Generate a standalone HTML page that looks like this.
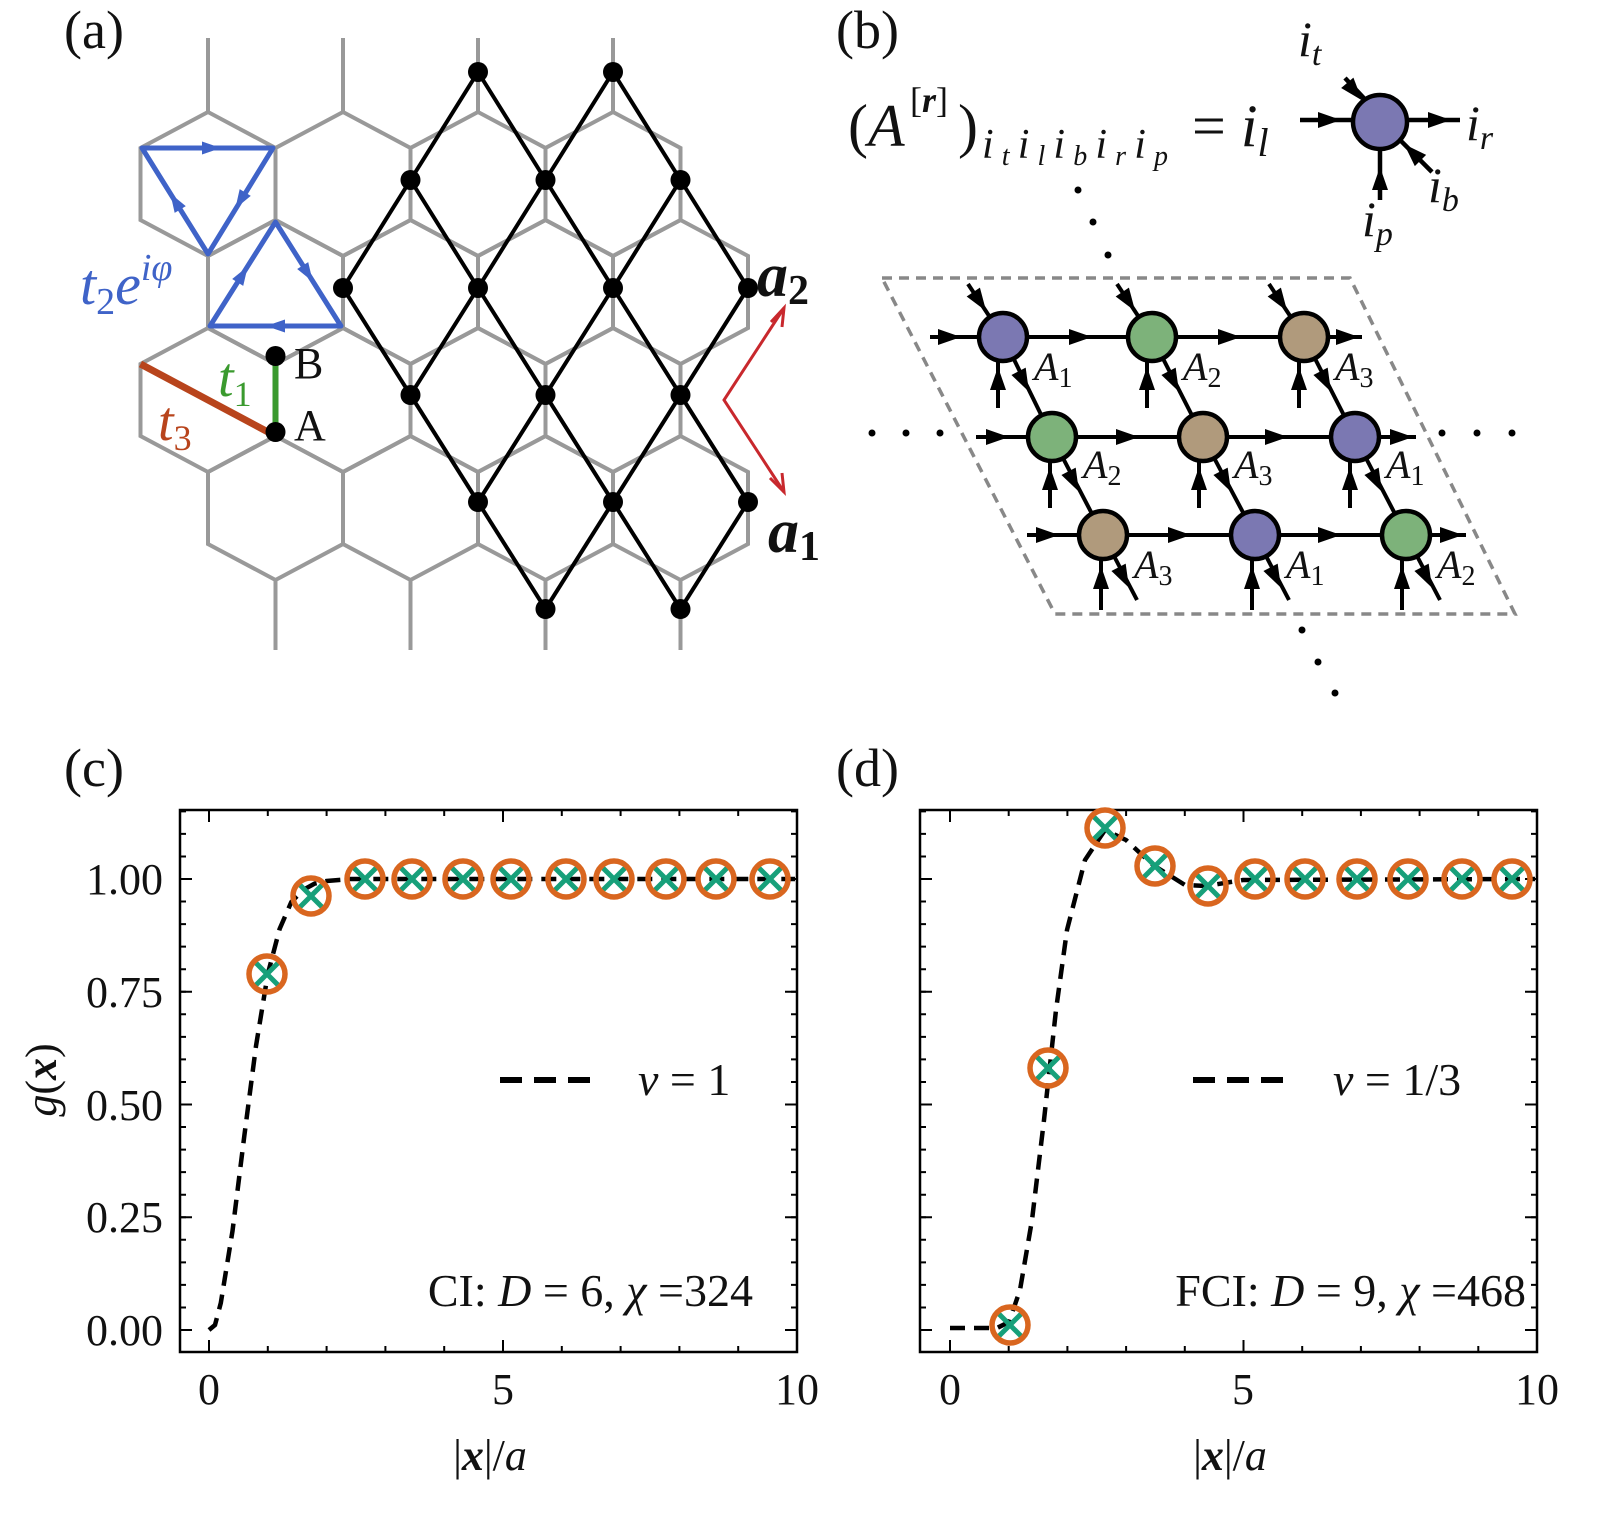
<!DOCTYPE html>
<html><head><meta charset="utf-8"><style>
html,body{margin:0;padding:0;background:#fff}
svg{display:block}
text{font-family:"Liberation Serif",serif;fill:#111}
.it{font-style:italic}
</style></head><body>
<svg width="1600" height="1517" viewBox="0 0 1600 1517" xmlns="http://www.w3.org/2000/svg">
<defs>
<polygon id="h" points="0,-72 67.5,-36 67.5,36 0,72 -67.5,36 -67.5,-36" fill="none" stroke="#999" stroke-width="4"/>
<polygon id="ar" points="-12,-8 11,0 -12,8" fill="#000"/>
<polygon id="ab" points="-10,-6.5 9,0 -10,6.5" fill="#3f63c8"/>
<g id="mk"><path d="M-11,-11 L11,11 M-11,11 L11,-11" stroke="#17a07a" stroke-width="5" fill="none"/><circle r="18" fill="none" stroke="#d9661f" stroke-width="5.5"/></g>
</defs>

<g>
<use href="#h" x="208" y="184"/><use href="#h" x="343" y="184"/><use href="#h" x="478" y="184"/><use href="#h" x="613" y="184"/>
<use href="#h" x="275.5" y="292"/><use href="#h" x="410.5" y="292"/><use href="#h" x="545.5" y="292"/><use href="#h" x="680.5" y="292"/>
<use href="#h" x="208" y="400"/><use href="#h" x="343" y="400"/><use href="#h" x="478" y="400"/><use href="#h" x="613" y="400"/>
<use href="#h" x="275.5" y="508"/><use href="#h" x="410.5" y="508"/><use href="#h" x="545.5" y="508"/><use href="#h" x="680.5" y="508"/>
<path d="M208,38V112M343,38V112M478,38V112M613,38V112M275.5,580V650M410.5,580V650M545.5,580V650M680.5,580V650" stroke="#999" stroke-width="4"/>
</g>
<g stroke="#000" stroke-width="4" fill="none">
<polyline points="478,72 545.5,180 613,288 680.5,395 748,502"/>
<polyline points="613,72 680.5,180 748,288"/>
<polyline points="410.5,180 478,288 545.5,395 613,502 680.5,609"/>
<polyline points="343,288 410.5,395 478,502 545.5,609"/>
<polyline points="478,72 410.5,180 343,288"/>
<polyline points="613,72 545.5,180 478,288 410.5,395"/>
<polyline points="680.5,180 613,288 545.5,395 478,502"/>
<polyline points="748,288 680.5,395 613,502 545.5,609"/>
<polyline points="748,502 680.5,609"/>
</g>
<g fill="#000">
<circle cx="478" cy="72" r="10"/><circle cx="613" cy="72" r="10"/>
<circle cx="410.5" cy="180" r="10"/><circle cx="545.5" cy="180" r="10"/><circle cx="680.5" cy="180" r="10"/>
<circle cx="343" cy="288" r="10"/><circle cx="478" cy="288" r="10"/><circle cx="613" cy="288" r="10"/><circle cx="748" cy="288" r="10"/>
<circle cx="410.5" cy="395" r="10"/><circle cx="545.5" cy="395" r="10"/><circle cx="680.5" cy="395" r="10"/>
<circle cx="478" cy="502" r="10"/><circle cx="613" cy="502" r="10"/><circle cx="748" cy="502" r="10"/>
<circle cx="545.5" cy="609" r="10"/><circle cx="680.5" cy="609" r="10"/>
</g>
<g stroke="#3f63c8" stroke-width="5" fill="none" stroke-linejoin="round">
<polygon points="142,148 273,148 208,254"/>
<polygon points="275.5,222 341,326 210,326"/>
</g>
<use href="#ab" transform="translate(212,148)"/>
<use href="#ab" transform="translate(240,201) rotate(121.5)"/>
<use href="#ab" transform="translate(175,201) rotate(-121.5)"/>
<use href="#ab" transform="translate(308,274) rotate(58)"/>
<use href="#ab" transform="translate(275,326) rotate(180)"/>
<use href="#ab" transform="translate(243,274) rotate(-58)"/>
<line x1="140.5" y1="364" x2="275.5" y2="436" stroke="#b8441c" stroke-width="7"/>
<line x1="275.5" y1="364" x2="275.5" y2="436" stroke="#3a9a2e" stroke-width="6"/>
<circle cx="275.5" cy="356" r="10"/><circle cx="275.5" cy="432" r="10"/>
<text x="294" y="378" font-size="44">B</text>
<text x="294" y="440" font-size="44">A</text>
<text x="218" y="396" font-size="56" class="it" style="fill:#3a9a2e">t<tspan font-size="36" dy="10" font-style="normal">1</tspan></text>
<text x="158" y="440" font-size="56" class="it" style="fill:#b8441c">t<tspan font-size="36" dy="10" font-style="normal">3</tspan></text>
<text x="80" y="304" font-size="58" class="it" style="fill:#3f63c8">t<tspan font-size="38" dy="10" font-style="normal">2</tspan><tspan dy="-10">e</tspan><tspan font-size="38" dy="-24">iφ</tspan></text>
<g stroke="#c8282d" stroke-width="3" fill="none">
<polyline points="784,308 724,400 784,492"/>
<polyline points="771,322 784,308 782,327"/>
<polyline points="770,478 784,492 782,473"/>
</g>
<text x="757" y="296" font-size="62" font-weight="bold" class="it">a<tspan font-size="42" dy="8" font-style="normal">2</tspan></text>
<text x="768" y="552" font-size="62" font-weight="bold" class="it">a<tspan font-size="42" dy="8" font-style="normal">1</tspan></text>
<text x="64" y="48" font-size="54">(a)</text>

<text x="836" y="48" font-size="54">(b)</text>
<text x="848" y="146" font-size="60">(<tspan class="it">A</tspan></text>
<text x="910" y="112" font-size="36">[<tspan font-weight="bold" class="it">r</tspan>]</text>
<text x="958" y="146" font-size="60">)</text>
<text x="982" y="158" font-size="42" class="it" textLength="186" lengthAdjust="spacing">i<tspan font-size="28" dy="7">t</tspan><tspan dy="-7">i</tspan><tspan font-size="28" dy="7">l</tspan><tspan dy="-7">i</tspan><tspan font-size="28" dy="7">b</tspan><tspan dy="-7">i</tspan><tspan font-size="28" dy="7">r</tspan><tspan dy="-7">i</tspan><tspan font-size="28" dy="7">p</tspan></text>
<text x="1192" y="146" font-size="60">= <tspan class="it">i</tspan><tspan class="it" font-size="40" dy="10">l</tspan></text>
<g stroke="#000" stroke-width="4.5">
<line x1="1300" y1="120" x2="1460" y2="120"/>
<line x1="1345" y1="78" x2="1375" y2="110"/>
<line x1="1380" y1="135" x2="1380" y2="200"/>
<line x1="1395" y1="135" x2="1432" y2="172"/>
</g>
<use href="#ar" transform="translate(1330,120)"/>
<use href="#ar" transform="translate(1440,120)"/>
<use href="#ar" transform="translate(1355,92) rotate(50)"/>
<use href="#ar" transform="translate(1380,178) rotate(-90)"/>
<use href="#ar" transform="translate(1412,152) rotate(-135)"/>
<circle cx="1380" cy="122" r="27" fill="#7b78b2" stroke="#000" stroke-width="4.5"/>
<text x="1298" y="56" font-size="50" class="it">i<tspan font-size="34" dy="9">t</tspan></text>
<text x="1466" y="140" font-size="50" class="it">i<tspan font-size="34" dy="9">r</tspan></text>
<text x="1428" y="202" font-size="50" class="it">i<tspan font-size="34" dy="9">b</tspan></text>
<text x="1362" y="236" font-size="50" class="it">i<tspan font-size="34" dy="9">p</tspan></text>
<g fill="#000">
<circle cx="1078" cy="190" r="3.5"/><circle cx="1093" cy="222" r="3.5"/><circle cx="1108" cy="255" r="3.5"/>
<circle cx="872" cy="433" r="3.5"/><circle cx="906" cy="433" r="3.5"/><circle cx="940" cy="433" r="3.5"/>
<circle cx="1442" cy="433" r="3.5"/><circle cx="1477" cy="433" r="3.5"/><circle cx="1512" cy="433" r="3.5"/>
<circle cx="1302" cy="630" r="3.5"/><circle cx="1318" cy="662" r="3.5"/><circle cx="1335" cy="693" r="3.5"/>
</g>
<polygon points="882,278 1350,278 1515,614 1055,614" fill="none" stroke="#888" stroke-width="3.5" stroke-dasharray="10 7"/>
<g stroke="#000" stroke-width="4">
<line x1="930" y1="337" x2="1362" y2="337"/>
<line x1="976" y1="437" x2="1416" y2="437"/>
<line x1="1027" y1="535" x2="1466" y2="535"/>
<line x1="1003" y1="337" x2="1052" y2="437"/><line x1="1152" y1="337" x2="1203" y2="437"/><line x1="1304" y1="337" x2="1355" y2="437"/>
<line x1="1052" y1="437" x2="1103" y2="535"/><line x1="1203" y1="437" x2="1255" y2="535"/><line x1="1355" y1="437" x2="1406" y2="535"/>
<line x1="1103" y1="535" x2="1137" y2="600"/><line x1="1255" y1="535" x2="1289" y2="600"/><line x1="1406" y1="535" x2="1440" y2="600"/>
<line x1="968" y1="284" x2="1003" y2="337"/><line x1="1117" y1="284" x2="1152" y2="337"/><line x1="1269" y1="284" x2="1304" y2="337"/>
<line x1="998" y1="360" x2="998" y2="408"/><line x1="1147" y1="360" x2="1147" y2="408"/><line x1="1299" y1="360" x2="1299" y2="408"/>
<line x1="1050" y1="460" x2="1050" y2="508"/><line x1="1199" y1="460" x2="1199" y2="508"/><line x1="1350" y1="460" x2="1350" y2="508"/>
<line x1="1101" y1="558" x2="1101" y2="610"/><line x1="1252" y1="558" x2="1252" y2="610"/><line x1="1402" y1="558" x2="1402" y2="610"/>
</g>
<g>
<use href="#ar" transform="translate(950,337)"/><use href="#ar" transform="translate(1081,337)"/><use href="#ar" transform="translate(1230,337)"/><use href="#ar" transform="translate(1348,337)"/>
<use href="#ar" transform="translate(998,437)"/><use href="#ar" transform="translate(1128,437)"/><use href="#ar" transform="translate(1277,437)"/><use href="#ar" transform="translate(1402,437)"/>
<use href="#ar" transform="translate(1048,535)"/><use href="#ar" transform="translate(1180,535)"/><use href="#ar" transform="translate(1330,535)"/><use href="#ar" transform="translate(1452,535)"/>
<use href="#ar" transform="translate(980,302) rotate(56)"/><use href="#ar" transform="translate(1129,302) rotate(56)"/><use href="#ar" transform="translate(1281,302) rotate(56)"/>
<use href="#ar" transform="translate(1024,382) rotate(63)"/><use href="#ar" transform="translate(1174,382) rotate(63)"/><use href="#ar" transform="translate(1326,382) rotate(63)"/>
<use href="#ar" transform="translate(1074,482) rotate(63)"/><use href="#ar" transform="translate(1226,482) rotate(63)"/><use href="#ar" transform="translate(1377,482) rotate(63)"/>
<use href="#ar" transform="translate(1124,578) rotate(63)"/><use href="#ar" transform="translate(1276,578) rotate(63)"/><use href="#ar" transform="translate(1427,578) rotate(63)"/>
<use href="#ar" transform="translate(998,378) rotate(-90)"/><use href="#ar" transform="translate(1147,378) rotate(-90)"/><use href="#ar" transform="translate(1299,378) rotate(-90)"/>
<use href="#ar" transform="translate(1050,478) rotate(-90)"/><use href="#ar" transform="translate(1199,478) rotate(-90)"/><use href="#ar" transform="translate(1350,478) rotate(-90)"/>
<use href="#ar" transform="translate(1101,577) rotate(-90)"/><use href="#ar" transform="translate(1252,577) rotate(-90)"/><use href="#ar" transform="translate(1402,577) rotate(-90)"/>
</g>
<g stroke="#000" stroke-width="4.5">
<circle cx="1003" cy="337" r="24" fill="#7b78b2"/><circle cx="1152" cy="337" r="24" fill="#7db27a"/><circle cx="1304" cy="337" r="24" fill="#b09a7c"/>
<circle cx="1052" cy="437" r="24" fill="#7db27a"/><circle cx="1203" cy="437" r="24" fill="#b09a7c"/><circle cx="1355" cy="437" r="24" fill="#7b78b2"/>
<circle cx="1103" cy="535" r="24" fill="#b09a7c"/><circle cx="1255" cy="535" r="24" fill="#7b78b2"/><circle cx="1406" cy="535" r="24" fill="#7db27a"/>
</g>
<g font-size="40" class="it">
<text x="1034" y="380">A<tspan font-size="28" dy="7" font-style="normal">1</tspan></text>
<text x="1183" y="380">A<tspan font-size="28" dy="7" font-style="normal">2</tspan></text>
<text x="1335" y="380">A<tspan font-size="28" dy="7" font-style="normal">3</tspan></text>
<text x="1083" y="478">A<tspan font-size="28" dy="7" font-style="normal">2</tspan></text>
<text x="1234" y="478">A<tspan font-size="28" dy="7" font-style="normal">3</tspan></text>
<text x="1386" y="478">A<tspan font-size="28" dy="7" font-style="normal">1</tspan></text>
<text x="1134" y="578">A<tspan font-size="28" dy="7" font-style="normal">3</tspan></text>
<text x="1286" y="578">A<tspan font-size="28" dy="7" font-style="normal">1</tspan></text>
<text x="1437" y="578">A<tspan font-size="28" dy="7" font-style="normal">2</tspan></text>
</g>

<text x="64" y="786" font-size="54">(c)</text>
<text x="836" y="786" font-size="54">(d)</text>
<g fill="none" stroke="#000">
<rect x="180" y="810" width="617" height="542" stroke-width="2.5"/>
<rect x="920" y="810" width="617" height="542" stroke-width="2.5"/>
<path d="M183,1331V810M794,1331V810" stroke-width="6" stroke-dasharray="2 20.55"/>
<path d="M186,1331V810M791,1331V810" stroke-width="12" stroke-dasharray="2 110.75"/>
<path d="M208,1349H797M208,813H797" stroke-width="6" stroke-dasharray="2 56.8"/>
<path d="M208,1346H797M208,816H797" stroke-width="12" stroke-dasharray="2 292"/>
<path d="M923,1331V810M1534,1331V810" stroke-width="6" stroke-dasharray="2 20.55"/>
<path d="M926,1331V810M1531,1331V810" stroke-width="12" stroke-dasharray="2 110.75"/>
<path d="M949,1349H1537M949,813H1537" stroke-width="6" stroke-dasharray="2 56.7"/>
<path d="M949,1346H1537M949,816H1537" stroke-width="12" stroke-dasharray="2 291.5"/>
</g>
<g font-size="44" text-anchor="end">
<text x="163" y="894">1.00</text><text x="163" y="1007">0.75</text><text x="163" y="1120">0.50</text><text x="163" y="1232">0.25</text><text x="163" y="1345">0.00</text>
</g>
<g font-size="44" text-anchor="middle">
<text x="209" y="1404">0</text><text x="503" y="1404">5</text><text x="797" y="1404">10</text>
<text x="950" y="1404">0</text><text x="1243" y="1404">5</text><text x="1537" y="1404">10</text>
<text x="490" y="1470">|<tspan font-weight="bold" class="it">x</tspan>|/<tspan class="it">a</tspan></text>
<text x="1230" y="1470">|<tspan font-weight="bold" class="it">x</tspan>|/<tspan class="it">a</tspan></text>
</g>
<text transform="translate(56,1080) rotate(-90)" font-size="44" text-anchor="middle"><tspan class="it">g</tspan>(<tspan font-weight="bold" class="it">x</tspan>)</text>
<path d="M209,1330 L215,1325 L220.8,1303 L232.5,1231 L244.3,1136 L256,1046 L267.8,974 L279.6,929 L291.3,902 L303,890 L314.8,883.5 L326.6,881 L350,879 L795,879" fill="none" stroke="#000" stroke-width="4.5" stroke-dasharray="15 9"/>
<path d="M950,1328 L997,1328 L1009,1322 L1020,1290 L1032,1220 L1044,1120 L1056,1010 L1067,930 L1085,860 L1105,830 L1126,840 L1153,865 L1185,885 L1206,886 L1243,880 L1535,879" fill="none" stroke="#000" stroke-width="4.5" stroke-dasharray="15 9"/>
<g>
<use href="#mk" x="267" y="974"/><use href="#mk" x="311" y="896"/><use href="#mk" x="365" y="879"/><use href="#mk" x="412" y="879"/><use href="#mk" x="463" y="879"/><use href="#mk" x="511" y="879"/><use href="#mk" x="566" y="879"/><use href="#mk" x="614" y="879"/><use href="#mk" x="666" y="879"/><use href="#mk" x="716" y="879"/><use href="#mk" x="770" y="879"/>
<use href="#mk" x="1010" y="1325"/><use href="#mk" x="1048" y="1068"/><use href="#mk" x="1105" y="828"/><use href="#mk" x="1155" y="866"/><use href="#mk" x="1208" y="886"/><use href="#mk" x="1255" y="879"/><use href="#mk" x="1305" y="879"/><use href="#mk" x="1357" y="879"/><use href="#mk" x="1408" y="879"/><use href="#mk" x="1462" y="879"/><use href="#mk" x="1512" y="879"/>
</g>
<path d="M500,1080H600" stroke="#000" stroke-width="6" stroke-dasharray="22 12"/>
<text x="638" y="1095" font-size="46"><tspan class="it">ν</tspan> = 1</text>
<path d="M1193,1080H1293" stroke="#000" stroke-width="6" stroke-dasharray="22 12"/>
<text x="1333" y="1095" font-size="46"><tspan class="it">ν</tspan> = 1/3</text>
<text x="753" y="1306" font-size="46" text-anchor="end">CI: <tspan class="it">D</tspan> = 6, <tspan class="it">χ</tspan> =324</text>
<text x="1526" y="1306" font-size="46" text-anchor="end">FCI: <tspan class="it">D</tspan> = 9, <tspan class="it">χ</tspan> =468</text>
</svg>
</body></html>
